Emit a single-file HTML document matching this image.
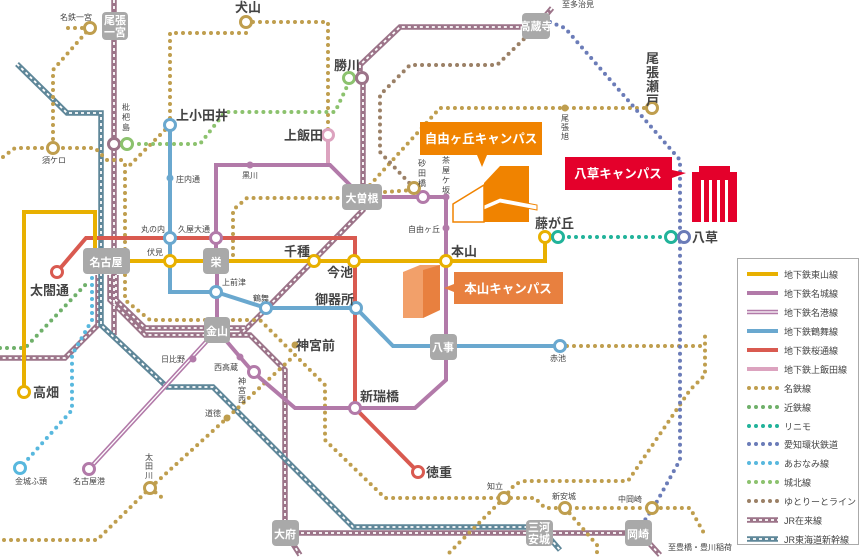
<!DOCTYPE html>
<html><head><meta charset="utf-8"><style>
html,body{margin:0;padding:0;background:#fff}
svg{display:block}
text{font-family:"Liberation Sans","Noto Sans CJK JP",sans-serif;fill:#444}
.b{font-size:13px;font-weight:bold}
.s{font-size:8px}
.m{font-size:9px}
.w{fill:#fff;font-weight:bold;font-size:11px}
.mt{fill:none;stroke:#bf9e4e;stroke-width:4;stroke-linecap:round;stroke-dasharray:0 7}
.yt{fill:none;stroke:#9b8066;stroke-width:4;stroke-linecap:round;stroke-dasharray:0 7}
.jr{fill:none;stroke:#9c7489;stroke-width:5.5}
.jw{fill:none;stroke:#fff;stroke-width:1.8;stroke-dasharray:3 3}
.sk{fill:none;stroke:#5f8799;stroke-width:5.5}
.st{fill:#fff;stroke-width:3}
</style></head><body>
<svg width="860" height="559" viewBox="0 0 860 559" xmlns="http://www.w3.org/2000/svg">
<g>
<path class="jr" d="M114 0V335 M110 275V300L145 335H250L285 370V533H640L660 555 M116 275V300L145 328H245 M98 275V325L65 358H0 M363 78V210L265 310L240 335 M552 8L536 27H400L360 65V78 M286 533L300 555"/>
<path class="jw" d="M114 0V335 M110 275V300L145 335H250L285 370V533H640L660 555 M116 275V300L145 328H245 M98 275V325L65 358H0 M363 78V210L265 310L240 335 M552 8L536 27H400L360 65V78 M286 533L300 555"/>
<path class="sk" d="M17 64L67 113H101V325L167 387H213L353 527H540L560 550"/>
<path class="jw" d="M17 64L67 113H101V325L167 387H213L353 527H540L560 550"/>
</g>
<path class="mt" d="M68 28H90L53 70V148 M3 157L15 148H95L107 160H125 M125 165V250 M165 130L130 165 M246 22H328V130 M246 33H170V120 M125 275V300L150 320H260L295 355 M295 355L325 385V440L385 498H504 M504 498L535 498L545 508H652H690L705 535 M504 498L515 484L525 481H628L690 390L705 375V335 M560 346H705 M504 498L447 555 M565 508L597 545V555 M295 355L227 418L150 488L97 540H0 M233 255V210L247 198H345 M385 192L414 190 M370 185L440 108H650 M150 488L165 500"/>
<path class="yt" d="M414 188L380 152V95L410 65H497L525 38"/>
<path fill="none" stroke="#6fb06a" stroke-width="4" stroke-linecap="round" stroke-dasharray="0 7" d="M0 348H25L88 282"/>
<path fill="none" stroke="#8cc26e" stroke-width="4" stroke-linecap="round" stroke-dasharray="0 7" d="M132 144H200L225 112H335L350 80"/>
<path fill="none" stroke="#58b8de" stroke-width="4" stroke-linecap="round" stroke-dasharray="0 7" d="M92 278V320L72 355V410L20 468"/>
<path fill="none" stroke="#21b39a" stroke-width="4" stroke-linecap="round" stroke-dasharray="0 7" d="M562 237H668"/>
<path fill="none" stroke="#6b7cb8" stroke-width="4" stroke-linecap="round" stroke-dasharray="0 7" d="M550 22L565 28L680 160V460L655 505L645 520"/>
<path fill="none" stroke="#d95a50" stroke-width="4" d="M57 272L86 238H355V408L418 472"/>
<path fill="none" stroke="#e8b000" stroke-width="4" d="M24 392V212H95V255 M106 261H545V237"/>
<path fill="none" stroke="#6aa8cf" stroke-width="4" d="M170 125V292H216L266 308H356L393 346H560"/>
<path fill="none" stroke="#dca3bf" stroke-width="4" d="M328 135V165"/>
<path fill="none" stroke="#b27aa9" stroke-width="4" d="M216 261V165H330L352 187 M362 197H446V380L415 408H295L253 372L240 357L217 330V261"/>
<path fill="none" stroke="#b27aa9" stroke-width="4.5" d="M217 330L89 469"/>
<path fill="none" stroke="#fff" stroke-width="1.3" d="M217 330L89 469"/>
<g fill="#b27aa9"><circle cx="250" cy="165" r="3.5"/><circle cx="446" cy="197" r="3.5"/><circle cx="446" cy="228" r="3.5"/><circle cx="193" cy="359" r="3.5"/><circle cx="240" cy="357" r="3.5"/></g>
<circle cx="170" cy="178" r="3.5" fill="#6aa8cf"/>
<g fill="#bf9e4e"><circle cx="565" cy="108" r="3.5"/><circle cx="295" cy="345" r="3.5"/><circle cx="227" cy="418" r="3.5"/></g>
<g class="st">
<circle cx="90" cy="28" r="5.5" stroke="#bf9e4e"/><circle cx="53" cy="148" r="5.5" stroke="#bf9e4e"/><circle cx="246" cy="22" r="5.5" stroke="#bf9e4e"/>
<circle cx="114" cy="144" r="5.5" stroke="#9c7489"/><circle cx="127" cy="144" r="5.5" stroke="#8cc26e"/>
<circle cx="349" cy="78" r="5.5" stroke="#8cc26e"/><circle cx="362" cy="78" r="5.5" stroke="#9c7489"/>
<circle cx="170" cy="125" r="5.5" stroke="#6aa8cf"/><circle cx="328" cy="135" r="5.5" stroke="#dca3bf"/>
<circle cx="170" cy="238" r="5.5" stroke="#6aa8cf"/><circle cx="216" cy="238" r="5.5" stroke="#b27aa9"/>
<circle cx="170" cy="261" r="5.5" stroke="#e8b000"/><circle cx="314" cy="261" r="5.5" stroke="#e8b000"/><circle cx="354" cy="261" r="5.5" stroke="#e8b000"/><circle cx="446" cy="261" r="5.5" stroke="#e8b000"/><circle cx="545" cy="237" r="5.5" stroke="#e8b000"/><circle cx="24" cy="392" r="5.5" stroke="#e8b000"/>
<circle cx="558" cy="237" r="5.5" stroke="#21b39a"/><circle cx="671" cy="237" r="5.5" stroke="#21b39a"/><circle cx="684" cy="237" r="5.5" stroke="#6b7cb8"/>
<circle cx="57" cy="272" r="5.5" stroke="#d95a50"/><circle cx="418" cy="472" r="5.5" stroke="#d95a50"/>
<circle cx="216" cy="292" r="5.5" stroke="#6aa8cf"/><circle cx="266" cy="308" r="5.5" stroke="#6aa8cf"/><circle cx="356" cy="308" r="5.5" stroke="#6aa8cf"/><circle cx="560" cy="346" r="5.5" stroke="#6aa8cf"/>
<circle cx="423" cy="197" r="5.5" stroke="#b27aa9"/><circle cx="414" cy="188" r="5.5" stroke="#bf9e4e"/>
<circle cx="355" cy="408" r="5.5" stroke="#b27aa9"/><circle cx="254" cy="372" r="5.5" stroke="#b27aa9"/><circle cx="89" cy="469" r="5.5" stroke="#b27aa9"/>
<circle cx="20" cy="468" r="5.5" stroke="#58b8de"/><circle cx="652" cy="108" r="5.5" stroke="#bf9e4e"/>
<circle cx="150" cy="488" r="5.5" stroke="#bf9e4e"/><circle cx="504" cy="498" r="5.5" stroke="#bf9e4e"/><circle cx="565" cy="508" r="5.5" stroke="#bf9e4e"/><circle cx="652" cy="508" r="5.5" stroke="#bf9e4e"/>
</g>
<g fill="#a9a9a9">
<rect x="102" y="12" width="26" height="28" rx="4"/><rect x="83" y="248" width="47" height="26" rx="4"/>
<rect x="203" y="248" width="26" height="26" rx="4"/><rect x="204" y="317" width="26" height="26" rx="4"/>
<rect x="342" y="184" width="40" height="26" rx="4"/><rect x="430" y="334" width="27" height="26" rx="4"/>
<rect x="522" y="13" width="28" height="26" rx="4"/><rect x="272" y="520" width="27" height="26" rx="4"/>
<rect x="526" y="520" width="27" height="26" rx="4"/><rect x="625" y="520" width="27" height="26" rx="4"/>
</g>
<text x="115" y="24" font-size="9" text-anchor="middle" class="w">尾張</text><text x="115" y="36" font-size="9" text-anchor="middle" class="w">一宮</text>
<text x="106" y="266" text-anchor="middle" class="w">名古屋</text><text x="216" y="266" text-anchor="middle" class="w">栄</text>
<text x="217" y="335" text-anchor="middle" class="w">金山</text><text x="362" y="202" text-anchor="middle" class="w">大曽根</text>
<text x="443" y="351" text-anchor="middle" class="w">八事</text><text x="536" y="30" text-anchor="middle" class="w" font-size="9">高蔵寺</text>
<text x="285" y="538" text-anchor="middle" class="w">大府</text>
<text x="539" y="531" text-anchor="middle" class="w" font-size="10">三河</text><text x="539" y="543" text-anchor="middle" class="w" font-size="10">安城</text>
<text x="638" y="538" text-anchor="middle" class="w">岡崎</text>
<text x="60" y="20" class="s">名鉄一宮</text><text x="42" y="163" class="s">須ケロ</text>
<text x="122" y="110" class="s">枇</text><text x="122" y="120" class="s">杷</text><text x="122" y="130" class="s">島</text>
<text x="235" y="12" class="b">犬山</text><text x="334" y="70" class="b">勝川</text>
<text x="176" y="120" class="b">上小田井</text><text x="284" y="140" class="b">上飯田</text>
<text x="176" y="182" class="s">庄内通</text><text x="242" y="178" class="s">黒川</text>
<text x="141" y="232" class="s">丸の内</text><text x="178" y="232" class="s">久屋大通</text><text x="147" y="255" class="s">伏見</text>
<text x="284" y="256" class="b">千種</text><text x="327" y="277" class="b">今池</text><text x="451" y="256" class="b">本山</text>
<text x="408" y="232" class="s">自由ヶ丘</text>
<text x="418" y="166" class="s">砂</text><text x="418" y="176" class="s">田</text><text x="418" y="186" class="s">橋</text>
<text x="442" y="163" class="s">茶</text><text x="442" y="173" class="s">屋</text><text x="442" y="183" class="s">ケ</text><text x="442" y="193" class="s">坂</text>
<text x="30" y="295" class="b">太閤通</text><text x="33" y="397" class="b">高畑</text>
<text x="222" y="285" class="s">上前津</text><text x="253" y="301" class="s">鶴舞</text><text x="315" y="304" class="b">御器所</text>
<text x="296" y="350" class="b">神宮前</text><text x="161" y="362" class="s">日比野</text><text x="214" y="370" class="s">西高蔵</text>
<text x="238" y="384" class="s">神</text><text x="238" y="393" class="s">宮</text><text x="238" y="402" class="s">西</text>
<text x="205" y="416" class="s">道徳</text><text x="360" y="401" class="b">新瑞橋</text><text x="426" y="477" class="b">徳重</text>
<text x="145" y="460" class="s">太</text><text x="145" y="469" class="s">田</text><text x="145" y="478" class="s">川</text>
<text x="15" y="484" class="s">金城ふ頭</text><text x="73" y="484" class="s">名古屋港</text>
<text x="550" y="361" class="s">赤池</text><text x="487" y="489" class="s">知立</text><text x="552" y="499" class="s">新安城</text><text x="618" y="502" class="s">中岡崎</text>
<text x="668" y="550" class="s">至豊橋・豊川稲荷</text><text x="562" y="7" class="s">至多治見</text>
<text x="535" y="228" class="b">藤が丘</text><text x="692" y="242" class="b">八草</text>
<text x="646" y="63" class="b">尾</text><text x="646" y="77" class="b">張</text><text x="646" y="91" class="b">瀬</text><text x="646" y="105" class="b">戸</text>
<text x="561" y="121" class="s">尾</text><text x="561" y="130" class="s">張</text><text x="561" y="139" class="s">旭</text>
<path d="M420 122H542V155H487L482 167L477 155H420Z" fill="#f08300"/>
<text x="481" y="143" text-anchor="middle" style="fill:#fff;font-weight:bold;font-size:12.5px">自由ヶ丘キャンパス</text>
<path d="M453 204L484 185V222H453Z" fill="#fff" stroke="#f08300" stroke-width="1.5"/>
<path d="M484 183L500 166H529V222H484Z" fill="#f08300"/>
<path d="M434 0" />
<path d="M436 205" />
<path d="M453 206" />
<path d="M484 205L500 198L537 205V210L500 203L484 210Z" fill="#fff" stroke="#f08300"/>
<path d="M454 272H563V304H454V292L444 288L454 284Z" fill="#e8803f"/>
<text x="508" y="293" text-anchor="middle" style="fill:#fff;font-weight:bold;font-size:12.5px">本山キャンパス</text>
<path d="M403 272L420 265H440V310L423 318H403Z" fill="#f2a06a"/><path d="M423 270L440 265V310L423 318Z" fill="#e8803f"/>
<path d="M565 157H672V170L686 173L672 178V190H565Z" fill="#e4002b"/>
<text x="618" y="178" text-anchor="middle" style="fill:#fff;font-weight:bold;font-size:12.5px">八草キャンパス</text>
<rect x="692" y="172" width="45" height="50" fill="#e4002b"/><rect x="699" y="166" width="31" height="8" fill="#e4002b"/>
<g fill="#fff"><rect x="701" y="180" width="3" height="42"/><rect x="709" y="180" width="3" height="42"/><rect x="717" y="180" width="3" height="42"/><rect x="725" y="180" width="3" height="42"/></g>
<rect x="737.5" y="258.5" width="121" height="286" fill="#fff" stroke="#aaa"/>
<g stroke-width="4" fill="none">
<path d="M747 274H778" stroke="#e8b000"/><path d="M747 293H778" stroke="#b27aa9"/>
<path d="M747 312H778" stroke="#b27aa9" stroke-width="4.5"/><path d="M747 312H778" stroke="#fff" stroke-width="1.3"/>
<path d="M747 331H778" stroke="#6aa8cf"/><path d="M747 350H778" stroke="#d95a50"/><path d="M747 369H778" stroke="#dca3bf"/>
<path d="M749 388H778" class="mt"/><path d="M749 407H778" class="mt" style="stroke:#6fb06a"/><path d="M749 426H778" class="mt" style="stroke:#21b39a"/>
<path d="M749 444H778" class="mt" style="stroke:#6b7cb8"/><path d="M749 463H778" class="mt" style="stroke:#58b8de"/><path d="M749 482H778" class="mt" style="stroke:#8cc26e"/>
<path d="M749 501H778" class="mt" style="stroke:#9b8066"/>
<path d="M747 520H778" class="jr"/><path d="M747 520H778" class="jw"/><path d="M747 539H778" class="sk"/><path d="M747 539H778" class="jw"/>
</g>
<text x="784" y="278" class="m">地下鉄東山線</text><text x="784" y="297" class="m">地下鉄名城線</text><text x="784" y="316" class="m">地下鉄名港線</text>
<text x="784" y="335" class="m">地下鉄鶴舞線</text><text x="784" y="354" class="m">地下鉄桜通線</text><text x="784" y="373" class="m">地下鉄上飯田線</text>
<text x="784" y="392" class="m">名鉄線</text><text x="784" y="411" class="m">近鉄線</text><text x="784" y="430" class="m">リニモ</text>
<text x="784" y="448" class="m">愛知環状鉄道</text><text x="784" y="467" class="m">あおなみ線</text><text x="784" y="486" class="m">城北線</text>
<text x="784" y="505" class="m">ゆとりーとライン</text><text x="784" y="524" class="m">JR在来線</text><text x="784" y="543" class="m">JR東海道新幹線</text>
</svg>
</body></html>
